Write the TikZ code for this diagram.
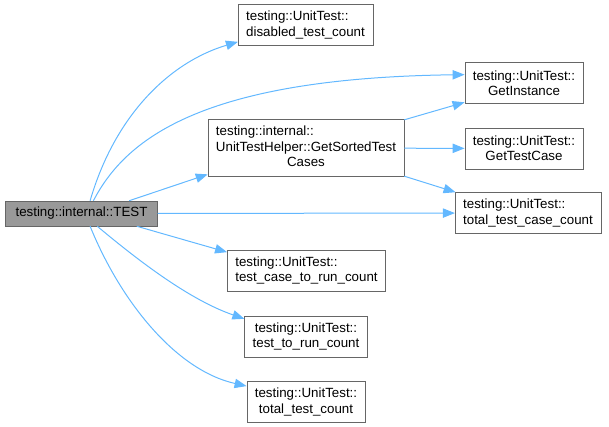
\documentclass[tikz,border=0pt]{standalone}
\usepackage{fontspec}
\setmainfont{Liberation Sans}
\usetikzlibrary{arrows.meta}
\definecolor{edgeblue}{HTML}{63B8FF}
\definecolor{boxgray}{HTML}{999999}
\definecolor{boxline}{HTML}{666666}

\begin{document}
\begin{tikzpicture}[x=0.75pt,y=-0.75pt,
    fn/.style={draw=boxline,fill=white,align=center,inner xsep=6pt,inner ysep=4pt,minimum height=30.75pt,font=\fontsize{10}{11.5}\selectfont},
    call/.style={draw=edgeblue,line width=0.75pt,-{Triangle[length=9pt,width=7pt]}}]
    \useasboundingbox (0,0) rectangle (609,427);

    \node[fn,fill=boxgray,minimum height=18.75pt,inner xsep=7.5pt] (tst) at (81.5,213.5) {testing::internal::TEST};
    \node[fn,align=left] (dis) at (305.5,25) {testing::UnitTest::\\disabled\_test\_count};
    \node[fn,minimum height=42pt] (srt) at (306,148) {\begin{tabular}{@{}l@{}}testing::internal::\\UnitTestHelper::GetSortedTest\\\multicolumn{1}{@{}c@{}}{Cases}\end{tabular}};
    \node[fn] (ins) at (524,83) {testing::UnitTest::\\GetInstance};
    \node[fn] (cas) at (524,148.5) {testing::UnitTest::\\GetTestCase};
    \node[fn,align=left] (tcc) at (528,213) {testing::UnitTest::\\total\_test\_case\_count};
    \node[fn,align=left] (crc) at (306.5,270.5) {testing::UnitTest::\\test\_case\_to\_run\_count};
    \node[fn] (trc) at (306,336.5) {testing::UnitTest::\\test\_to\_run\_count};
    \node[fn] (ttc) at (306,402) {testing::UnitTest::\\total\_test\_count};

    \draw[call] (tst.56) .. controls (115,115) and (170,62) .. (dis.194);
    \draw[call] (tst.47) .. controls (125,140) and (200,78) .. (ins.172);
    \draw[call] (tst.15) -- (srt.195);
    \draw[call] (tst) -- (tcc);
    \draw[call] (tst.-13) -- (crc.167);
    \draw[call] (tst.-39) .. controls (140,262) and (190,300) .. (trc.164);
    \draw[call] (tst.-56) .. controls (120,300) and (175,370) .. (ttc.165);
    \draw[call] (srt.16) -- (ins.198);
    \draw[call] (srt) -- (cas);
    \draw[call] (srt.-16) -- (tcc.164);
\end{tikzpicture}
\end{document}
